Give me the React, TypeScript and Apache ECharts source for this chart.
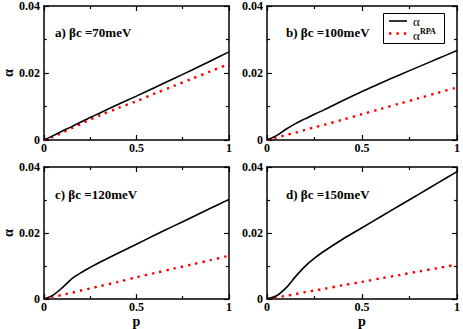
import React, { useEffect, useRef } from "react";
import * as echarts from "echarts";

const pValues = [0, 0.05, 0.1, 0.15, 0.2, 0.25, 0.3, 0.4, 0.5, 0.6, 0.7, 0.8, 0.9, 1];

const alphaA = [0, 0.0013, 0.0027, 0.004, 0.0054, 0.0067, 0.008, 0.0106, 0.0131, 0.0157, 0.0183, 0.0209, 0.0236, 0.0263];
const rpaA = [0, 0.001, 0.0022, 0.0035, 0.0048, 0.0061, 0.0073, 0.0095, 0.0116, 0.0139, 0.0161, 0.0183, 0.0205, 0.0227];

const alphaB = [0, 0.0013, 0.0032, 0.0049, 0.0063, 0.0077, 0.009, 0.0118, 0.0145, 0.017, 0.0195, 0.0219, 0.0243, 0.0267];
const rpaB = [0, 0.0007, 0.0015, 0.0022, 0.003, 0.0038, 0.0045, 0.0061, 0.0077, 0.0093, 0.0109, 0.0125, 0.0141, 0.0157];

const alphaC = [0, 0.0012, 0.0035, 0.0061, 0.008, 0.0096, 0.0111, 0.0139, 0.0166, 0.0194, 0.0221, 0.0248, 0.0275, 0.0302];
const rpaC = [0, 0.0006, 0.0013, 0.0019, 0.0026, 0.0032, 0.0039, 0.0052, 0.0066, 0.0079, 0.0092, 0.0105, 0.0118, 0.0131];

const alphaD = [0, 0.001, 0.0034, 0.0068, 0.0099, 0.0124, 0.0145, 0.0182, 0.0216, 0.025, 0.0284, 0.0318, 0.0352, 0.0386];
const rpaD = [0, 0.0005, 0.001, 0.0015, 0.0021, 0.0026, 0.0031, 0.0042, 0.0052, 0.0063, 0.0073, 0.0084, 0.0094, 0.0105];

const panelTitles = ["a) βc =70meV", "b) βc =100meV", "c) βc =120meV", "d) βc =150meV"];
const xTickLabels = ["0", "0.5", "1"];
const yTickLabels = ["0", "0.02", "0.04"];
const legendNames = ["α", "α", "RPA"];

const seriesAlpha = [alphaA, alphaB, alphaC, alphaD];
const seriesRpa = [rpaA, rpaB, rpaC, rpaD];

const FONT = "'Times New Roman', 'Liberation Serif', serif";
const RED = "#ff0000";

export default function App() {
  const ref = useRef<HTMLDivElement>(null);
  useEffect(() => {
    if (!ref.current) return;
    const chart = echarts.init(ref.current, null, { renderer: "svg" });

    const grids = [
      { left: 36, top: 5, width: 193, height: 135 },
      { left: 267, top: 5, width: 192, height: 135 },
      { left: 36, top: 167, width: 193, height: 136 },
      { left: 267, top: 167, width: 192, height: 136 },
    ];

    const xAxes: any[] = [];
    const yAxes: any[] = [];
    const series: any[] = [];
    const graphics: any[] = [];

    const lineStyle = { color: "#000", width: 1.5 };
    const tickStyle = { color: "#000", width: 1.2 };
    const labelStyle = { fontFamily: FONT, fontWeight: "bold" as const, fontSize: 12, color: "#000" };

    grids.forEach((g, i) => {
      const showXName = i >= 2;
      const showYName = i % 2 === 0;
      xAxes.push({
        type: "value",
        gridIndex: i,
        position: "bottom",
        min: 0,
        max: 1,
        interval: 0.5,
        name: showXName ? "p" : "",
        nameLocation: "middle",
        nameGap: 12,
        nameTextStyle: { fontFamily: FONT, fontWeight: "bold", fontSize: 14, color: "#000" },
        axisLine: { show: true, onZero: false, lineStyle },
        axisTick: { show: true, inside: true, length: 5, lineStyle: tickStyle },
        minorTick: { show: true, splitNumber: 2, length: 3, lineStyle: tickStyle },
        splitLine: { show: false },
        axisLabel: {
          show: true,
          margin: 2,
          ...labelStyle,
          formatter: (v: number) => xTickLabels[Math.round(v / 0.5)] ?? "",
        },
      });
      xAxes.push({
        type: "value",
        gridIndex: i,
        position: "top",
        min: 0,
        max: 1,
        interval: 0.5,
        axisLine: { show: true, onZero: false, lineStyle },
        axisTick: { show: true, inside: true, length: 5, lineStyle: tickStyle },
        minorTick: { show: true, splitNumber: 2, length: 3, lineStyle: tickStyle },
        splitLine: { show: false },
        axisLabel: { show: false },
      });
      yAxes.push({
        type: "value",
        gridIndex: i,
        position: "left",
        min: 0,
        max: 0.04,
        interval: 0.02,
        name: showYName ? "α" : "",
        nameLocation: "middle",
        nameGap: 27,
        nameRotate: 90,
        nameTextStyle: { fontFamily: FONT, fontWeight: "bold", fontSize: 14, color: "#000" },
        axisLine: { show: true, onZero: false, lineStyle },
        axisTick: { show: true, inside: true, length: 5, lineStyle: tickStyle },
        minorTick: { show: true, splitNumber: 2, length: 3, lineStyle: tickStyle },
        splitLine: { show: false },
        axisLabel: {
          show: true,
          margin: 4,
          ...labelStyle,
          formatter: (v: number) => yTickLabels[Math.round(v / 0.02)] ?? "",
        },
      });
      yAxes.push({
        type: "value",
        gridIndex: i,
        position: "right",
        min: 0,
        max: 0.04,
        interval: 0.02,
        axisLine: { show: true, onZero: false, lineStyle },
        axisTick: { show: true, inside: true, length: 5, lineStyle: tickStyle },
        minorTick: { show: true, splitNumber: 2, length: 3, lineStyle: tickStyle },
        splitLine: { show: false },
        axisLabel: { show: false },
      });

      series.push({
        name: "α",
        type: "line",
        xAxisIndex: i * 2,
        yAxisIndex: i * 2,
        data: pValues.map((p, k) => [p, seriesAlpha[i][k]]),
        showSymbol: false,
        symbol: "none",
        smooth: 0.3,
        lineStyle: { color: "#000", width: 1.6 },
        itemStyle: { color: "#000" },
        z: 3,
      });
      series.push({
        name: "αRPA",
        type: "line",
        xAxisIndex: i * 2,
        yAxisIndex: i * 2,
        data: pValues.map((p, k) => [p, seriesRpa[i][k]]),
        showSymbol: false,
        symbol: "none",
        smooth: 0.3,
        lineStyle: { color: RED, width: 2.4, type: [2.4, 5] },
        itemStyle: { color: RED },
        z: 2,
      });

      graphics.push({
        type: "text",
        left: g.left + 19,
        top: g.top + 21,
        style: {
          text: panelTitles[i],
          fontFamily: FONT,
          fontWeight: "bold",
          fontSize: 13,
          fill: "#000",
        },
      });
    });

    // legend box in panel b
    graphics.push({
      type: "rect",
      shape: { x: 383.5, y: 13.5, width: 61, height: 30 },
      style: { fill: "#fff", stroke: "#000", lineWidth: 1 },
      z: 10,
    });
    graphics.push({
      type: "line",
      shape: { x1: 389, y1: 21, x2: 407, y2: 21 },
      style: { stroke: "#000", lineWidth: 1.6 },
      z: 11,
    });
    graphics.push({
      type: "line",
      shape: { x1: 389, y1: 33.5, x2: 408, y2: 33.5 },
      style: { stroke: RED, lineWidth: 2.4, lineDash: [2.4, 5] },
      z: 11,
    });
    graphics.push({
      type: "text",
      x: 413,
      y: 21,
      style: { text: legendNames[0], fontFamily: FONT, fontSize: 13, fill: "#000", verticalAlign: "middle" },
      z: 11,
    });
    graphics.push({
      type: "text",
      x: 413,
      y: 35.5,
      style: { text: legendNames[1], fontFamily: FONT, fontSize: 13, fill: "#000", verticalAlign: "middle" },
      z: 11,
    });
    graphics.push({
      type: "text",
      x: 420,
      y: 35,
      style: { text: legendNames[2], fontFamily: FONT, fontSize: 8, fontWeight: "bold", fill: "#000", verticalAlign: "bottom" },
      z: 11,
    });

    chart.setOption({
      animation: false,
      backgroundColor: "#fff",
      grid: grids,
      xAxis: xAxes,
      yAxis: yAxes,
      series,
      graphic: graphics,
    });

    return () => chart.dispose();
  }, []);
  return <div ref={ref} style={{ position: "fixed", left: 0, top: 0, width: 463, height: 329 }} />;
}
